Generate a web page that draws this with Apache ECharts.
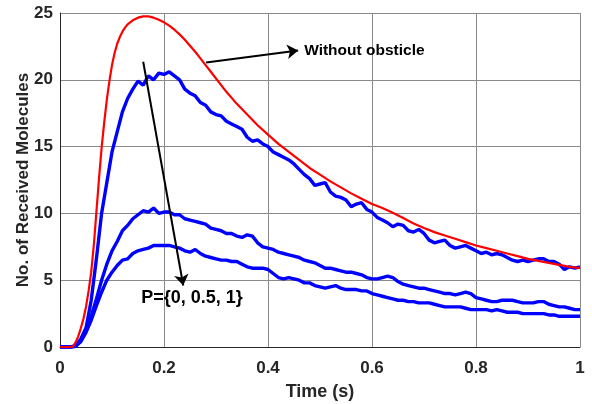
<!DOCTYPE html>
<html><head><meta charset="utf-8">
<script src="https://cdn.jsdelivr.net/npm/echarts@6/dist/echarts.min.js"></script>
<style>html,body{margin:0;padding:0;background:#fff}#c{width:592px;height:404px}</style>
</head><body><div id="c"></div>
<script>
// ---- data ----
const timeBlue = [0,0.01,0.02,0.03,0.04,0.05,0.06,0.07,0.08,0.09,0.10,0.11,0.12,0.13,0.14,0.15,0.16,0.17,0.18,0.19,0.20,0.21,0.22,0.23,0.24,0.25,0.26,0.27,0.28,0.29,0.30,0.31,0.32,0.33,0.34,0.35,0.36,0.37,0.38,0.39,0.40,0.41,0.42,0.43,0.44,0.45,0.46,0.47,0.48,0.49,0.50,0.51,0.52,0.53,0.54,0.55,0.56,0.57,0.58,0.59,0.60,0.61,0.62,0.63,0.64,0.65,0.66,0.67,0.68,0.69,0.70,0.71,0.72,0.73,0.74,0.75,0.76,0.77,0.78,0.79,0.80,0.81,0.82,0.83,0.84,0.85,0.86,0.87,0.88,0.89,0.90,0.91,0.92,0.93,0.94,0.95,0.96,0.97,0.98,0.99,1.00];
const p0Values = [0,0,0,0.05,0.5,1.4,3.5,6.6,10.0,12.3,14.6,16.1,17.6,18.6,19.3,19.9,19.6,20.3,20.0,20.5,20.4,20.6,20.3,20.0,19.3,19.0,18.8,18.3,18.1,17.6,17.4,17.3,16.9,16.7,16.5,16.3,15.7,15.4,15.5,15.2,15.0,14.6,14.4,14.2,14.0,13.7,13.3,12.9,12.6,12.1,12.2,12.3,11.6,11.3,11.2,11.0,10.5,10.7,10.8,10.3,10.1,9.7,9.5,9.3,9.0,9.2,9.1,8.7,8.6,8.8,8.5,8.0,7.8,7.9,8.0,7.6,7.4,7.5,7.6,7.4,7.2,7.0,7.1,6.9,7.0,6.9,6.7,6.5,6.4,6.5,6.4,6.5,6.6,6.6,6.4,6.4,6.2,5.8,6.0,5.9,6.0];
const p05Values = [0,0,0,0.1,0.6,1.4,2.3,3.6,5.0,6.2,7.2,7.9,8.7,9.1,9.6,9.9,10.2,10.1,10.4,10.0,10.1,10.1,9.9,9.9,9.6,9.5,9.4,9.3,9.2,8.9,8.8,8.7,8.5,8.5,8.3,8.2,8.4,8.3,7.8,7.5,7.4,7.3,7.1,7.0,6.9,6.8,6.7,6.5,6.4,6.3,6.1,5.9,5.9,5.8,5.7,5.6,5.6,5.5,5.4,5.2,5.1,5.1,5.2,5.3,5.2,4.9,4.7,4.6,4.5,4.4,4.4,4.3,4.2,4.1,4.0,4.0,3.9,4.0,4.1,4.0,3.7,3.6,3.5,3.4,3.4,3.5,3.5,3.5,3.4,3.3,3.3,3.3,3.4,3.4,3.2,3.1,3.0,3.0,2.9,2.8,2.8];
const p1Values = [0,0,0,0.05,0.4,1.1,2.0,3.1,4.1,5.0,5.6,6.1,6.5,6.6,7.0,7.2,7.3,7.4,7.6,7.6,7.6,7.6,7.5,7.4,7.2,7.1,7.3,7.0,6.8,6.7,6.6,6.5,6.5,6.4,6.4,6.2,6.0,5.9,5.9,5.9,5.8,5.5,5.2,5.1,5.2,5.1,5.0,4.8,4.8,4.6,4.5,4.4,4.5,4.6,4.4,4.3,4.3,4.3,4.2,4.2,4.0,3.9,3.8,3.7,3.6,3.5,3.5,3.4,3.4,3.3,3.3,3.3,3.2,3.1,3.0,3.0,3.0,3.0,2.9,2.8,2.8,2.8,2.8,2.7,2.8,2.7,2.6,2.6,2.6,2.5,2.5,2.5,2.5,2.5,2.4,2.4,2.3,2.3,2.3,2.3,2.3];
const timeRed = [0,0.02,0.025,0.03,0.035,0.04,0.045,0.05,0.055,0.06,0.065,0.07,0.075,0.08,0.085,0.09,0.095,0.10,0.105,0.11,0.115,0.12,0.125,0.13,0.14,0.15,0.16,0.17,0.18,0.19,0.20,0.21,0.22,0.23,0.24,0.25,0.26,0.27,0.28,0.29,0.30,0.32,0.34,0.36,0.38,0.40,0.42,0.44,0.46,0.48,0.50,0.52,0.54,0.56,0.58,0.60,0.62,0.64,0.66,0.68,0.70,0.72,0.74,0.76,0.78,0.80,0.82,0.84,0.86,0.88,0.90,0.92,0.94,0.96,0.98,1.00];
const redValues = [0,0,0.05,0.35,0.8,1.4,2.1,3.0,4.2,5.6,7.6,10.1,12.6,14.9,16.8,18.5,19.9,21.1,22.0,22.7,23.2,23.6,23.9,24.15,24.45,24.65,24.75,24.75,24.65,24.5,24.3,24.05,23.75,23.4,23.0,22.55,22.1,21.6,21.1,20.6,20.1,19.1,18.2,17.4,16.6,15.9,15.2,14.6,14.0,13.4,12.9,12.4,11.95,11.5,11.1,10.7,10.4,10.05,9.65,9.25,8.9,8.6,8.35,8.1,7.85,7.6,7.4,7.2,7.0,6.8,6.6,6.45,6.3,6.15,6.0,5.9];
const xTicks = [0, 0.2, 0.4, 0.6, 0.8, 1];
const yTicks = [0, 5, 10, 15, 20, 25];
// annotation arrows in data coordinates [t, value]
const arrowObstacle = [[0.281, 21.3], [0.458, 22.2]];
const arrowP = [[0.160, 21.35], [0.237, 4.6]];
const labelObstacle = 'Without obsticle';
const labelP = 'P={0, 0.5, 1}';

const zip = (a, b) => a.map((t, i) => [t, b[i]]);
const FONT = 'Arial, "Liberation Sans", Helvetica, sans-serif';
const chart = echarts.init(document.getElementById('c'), null, {renderer: 'canvas'});
const arrowLine = (pts) => ({
  silent: true, symbol: ['none', 'arrow'], symbolSize: 11, symbolOffset: 0, animation: false,
  lineStyle: {color: '#000', width: 2, type: 'solid'}, itemStyle: {color: '#000'}, label: {show: false},
  emphasis: {disabled: true},
  data: [[{coord: pts[0]}, {coord: pts[1]}]]
});
const blueSeries = (vals) => ({
  type: 'line', data: zip(timeBlue, vals), showSymbol: false, smooth: false,
  lineStyle: {color: '#0000ff', width: 3.4}, itemStyle: {color: '#0000ff'}, z: 2
});
const axisLabelStyle = {fontFamily: FONT, fontWeight: 'bold', fontSize: 17, color: '#262626'};

chart.setOption({
  animation: false,
  backgroundColor: '#fff',
  grid: {left: 60, right: 12, top: 13, bottom: 57, containLabel: false, outerBoundsMode: 'none'},
  xAxis: {
    type: 'value', min: 0, max: 1, interval: 0.2,
    name: 'Time (s)', nameLocation: 'middle', nameGap: 36, nameMoveOverlap: false,
    nameTextStyle: {fontFamily: FONT, fontWeight: 'bold', fontSize: 18, color: '#262626'},
    axisLine: {show: true, onZero: false, lineStyle: {color: '#262626', width: 1}},
    axisTick: {show: false},
    axisLabel: Object.assign({margin: 13,
      formatter: v => (xTicks.indexOf(+v.toFixed(1)) >= 0 ? String(+v.toFixed(1)) : '')}, axisLabelStyle),
    splitLine: {show: true, lineStyle: {color: '#8a8a8a', width: 1}}
  },
  yAxis: {
    type: 'value', min: 0, max: 25, interval: 5,
    name: 'No. of Received Molecules', nameLocation: 'middle', nameGap: 28, nameMoveOverlap: false,
    nameTextStyle: {fontFamily: FONT, fontWeight: 'bold', fontSize: 17, color: '#262626'},
    axisLine: {show: true, onZero: false, lineStyle: {color: '#262626', width: 1}},
    axisTick: {show: false},
    axisLabel: Object.assign({margin: 7,
      formatter: v => (yTicks.indexOf(v) >= 0 ? String(v) : '')}, axisLabelStyle),
    splitLine: {show: true, lineStyle: {color: '#8a8a8a', width: 1}}
  },
  series: [
    blueSeries(p1Values),
    blueSeries(p05Values),
    blueSeries(p0Values),
    {type: 'line', data: zip(timeRed, redValues), showSymbol: false, smooth: false,
     lineStyle: {color: '#ff0000', width: 2.2}, itemStyle: {color: '#ff0000'}, z: 3},
    {type: 'line', data: [], markLine: arrowLine(arrowObstacle), z: 4},
    {type: 'line', data: [], markLine: arrowLine(arrowP), z: 4}
  ]
});

function placeLabels() {
  const a = chart.convertToPixel({gridIndex: 0}, arrowObstacle[1]);
  const b = chart.convertToPixel({gridIndex: 0}, arrowP[1]);
  chart.setOption({graphic: [
    {type: 'text', left: a[0] + 6, top: a[1] - 8, style: {text: labelObstacle, fontFamily: FONT, fontWeight: 'bold', fontSize: 15.5, fill: '#000'}},
    {type: 'text', left: b[0] - 42, top: b[1] + 3, style: {text: labelP, fontFamily: FONT, fontWeight: 'bold', fontSize: 18, fill: '#000'}}
  ]});
}
placeLabels();
</script></body></html>
